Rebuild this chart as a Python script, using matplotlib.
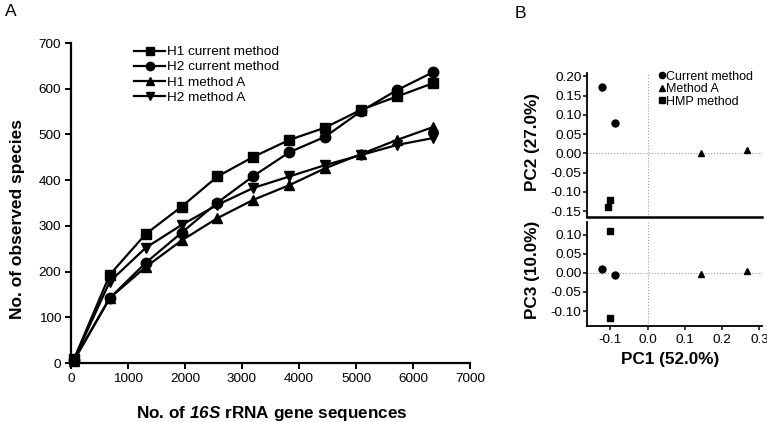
import numpy as np
import matplotlib
matplotlib.use('Agg')
import matplotlib.pyplot as plt

plt.rcParams['font.family'] = ['Liberation Sans', 'DejaVu Sans']
plt.rcParams['mathtext.fontset'] = 'custom'
plt.rcParams['mathtext.it'] = 'Liberation Sans:bold:italic'
plt.rcParams['mathtext.rm'] = 'Liberation Sans:bold:italic'

# Panel A: rarefaction curves
seqs = [50, 680, 1310, 1940, 2570, 3200, 3830, 4460, 5090, 5720, 6350]
h1_current = [8, 193, 282, 342, 408, 451, 488, 515, 554, 583, 612]
h2_current = [6, 142, 219, 285, 351, 409, 461, 495, 551, 597, 636]
h1_method_a = [5, 142, 210, 268, 317, 357, 389, 426, 457, 488, 516]
h2_method_a = [7, 178, 252, 302, 346, 383, 408, 433, 455, 477, 492]
series_labels = ['H1 current method', 'H2 current method', 'H1 method A', 'H2 method A']
series_markers = ['s', 'o', '^', 'v']

# Panel B: PCA scores
pc1_current = [-0.123, -0.089]
pc2_current = [0.172, 0.079]
pc3_current = [0.009, -0.005]
pc1_method_a = [0.144, 0.267]
pc2_method_a = [0.0, 0.009]
pc3_method_a = [-0.002, 0.004]
pc1_hmp = [-0.102, -0.107]
pc2_hmp = [-0.120, -0.139]
pc1_hmp_pc3 = [-0.102, -0.102]
pc3_hmp = [0.109, -0.118]
group_labels = ['Current method', 'Method A', 'HMP method']

W, H = 767, 422
fig = plt.figure(figsize=(W / 100, H / 100), dpi=100)

#axes placed in pixel units from the top-left corner
def px_axes(left, top, right, bottom):
  return fig.add_axes([left / W, 1 - bottom / H, (right - left) / W, (bottom - top) / H])

# ---- Panel A ----
axA = px_axes(71, 43, 470, 363)
for vals, lab, mk in zip([h1_current, h2_current, h1_method_a, h2_method_a], series_labels, series_markers):
  axA.plot(seqs, vals, color='black', lw=1.6, marker=mk, ms=7.5, label=lab, clip_on=False, zorder=3)
axA.set_xlim(0, 7000)
axA.set_ylim(0, 700)
axA.set_xticks(np.arange(0, 7001, 1000))
axA.set_yticks(np.arange(0, 701, 100))
for s in ['top', 'right']:
  axA.spines[s].set_visible(False)
for s in ['left', 'bottom']:
  axA.spines[s].set_linewidth(1.6)
axA.tick_params(direction='out', length=4, width=1.4, labelsize=9.7, pad=3)
axA.set_ylabel('No. of observed species', fontsize=12.5, fontweight='bold')
axA.set_xlabel(r'No. of $\mathrm{16S}$ rRNA gene sequences', fontsize=12.3, fontweight='bold')
axA.yaxis.set_label_coords((25 - 71) / 399, (363 - 219) / 320)
axA.xaxis.set_label_coords((272 - 71) / 399, (363 - 404) / 320)
axA.legend(loc='upper left', bbox_to_anchor=(0.142, 1.012), frameon=False, fontsize=9.7,
           handlelength=2.3, handletextpad=0.15, labelspacing=0.2, borderpad=0, markerscale=0.8)

fig.text(5 / W, 1 - 12 / H, 'A', fontsize=12.5, va='center', ha='left')
fig.text(515 / W, 1 - 13 / H, 'B', fontsize=12.5, va='center', ha='left')

# ---- Panel B ----
xlim_b = (-0.163, 0.307)
axT = px_axes(587, 73, 762, 217)
axB = px_axes(587, 222, 762, 326)

axT.plot(pc1_current, pc2_current, 'o', color='black', ms=5, label=group_labels[0])
axT.plot(pc1_method_a, pc2_method_a, '^', color='black', ms=5, label=group_labels[1])
axT.plot(pc1_hmp, pc2_hmp, 's', color='black', ms=5, label=group_labels[2])
axT.set_xlim(*xlim_b)
axT.set_ylim(-0.165, 0.209)
axT.set_yticks(np.arange(-0.15, 0.201, 0.05))
axT.set_yticklabels([f'{v:.2f}' for v in np.arange(-0.15, 0.201, 0.05)])
axT.set_xticks([])
axT.axhline(0, color='#999999', lw=0.8, ls=':', zorder=0)
axT.axvline(0, color='#999999', lw=0.8, ls=':', zorder=0)
axT.spines['top'].set_visible(False)
axT.spines['right'].set_visible(False)
axT.spines['left'].set_linewidth(1.3)
axT.spines['bottom'].set_linewidth(1.8)
axT.tick_params(axis='y', direction='out', length=3, width=1.1, labelsize=9.7, pad=1)
axT.set_ylabel('PC2 (27.0%)', fontsize=12.3, fontweight='bold')
axT.yaxis.set_label_coords((540 - 587) / 175, (217 - 142) / 144)
axT.legend(loc='upper left', bbox_to_anchor=(0.375, 1.06), frameon=False,
           prop={'family': ['Liberation Sans Narrow', 'DejaVu Sans Condensed', 'Liberation Sans'], 'size': 9},
           handlelength=0.5, handletextpad=0.1, labelspacing=0.05, borderpad=0, markerscale=0.9)

axB.plot(pc1_current, pc3_current, 'o', color='black', ms=5)
axB.plot(pc1_method_a, pc3_method_a, '^', color='black', ms=5)
axB.plot(pc1_hmp_pc3, pc3_hmp, 's', color='black', ms=5)
axB.set_xlim(*xlim_b)
axB.set_ylim(-0.139, 0.133)
axB.set_yticks(np.arange(-0.10, 0.101, 0.05))
axB.set_yticklabels([f'{v:.2f}' for v in np.arange(-0.10, 0.101, 0.05)])
axB.set_xticks([-0.1, 0.0, 0.1, 0.2, 0.3])
axB.set_xticklabels(['-0.1', '0.0', '0.1', '0.2', '0.3'])
axB.axhline(0, color='#999999', lw=0.8, ls=':', zorder=0)
axB.axvline(0, color='#999999', lw=0.8, ls=':', zorder=0)
axB.spines['top'].set_visible(False)
axB.spines['right'].set_visible(False)
axB.spines['left'].set_linewidth(1.3)
axB.spines['bottom'].set_linewidth(1.3)
axB.tick_params(direction='out', length=3, width=1.1, labelsize=9.7, pad=1)
axB.tick_params(axis='x', pad=3)
axB.set_ylabel('PC3 (10.0%)', fontsize=12.3, fontweight='bold')
axB.yaxis.set_label_coords((540 - 587) / 175, (326 - 270) / 104)
axB.set_xlabel('PC1 (52.0%)', fontsize=12.3, fontweight='bold')
axB.xaxis.set_label_coords((670 - 587) / 175, (326 - 352) / 104)

fig.savefig('out.png', dpi=100)
